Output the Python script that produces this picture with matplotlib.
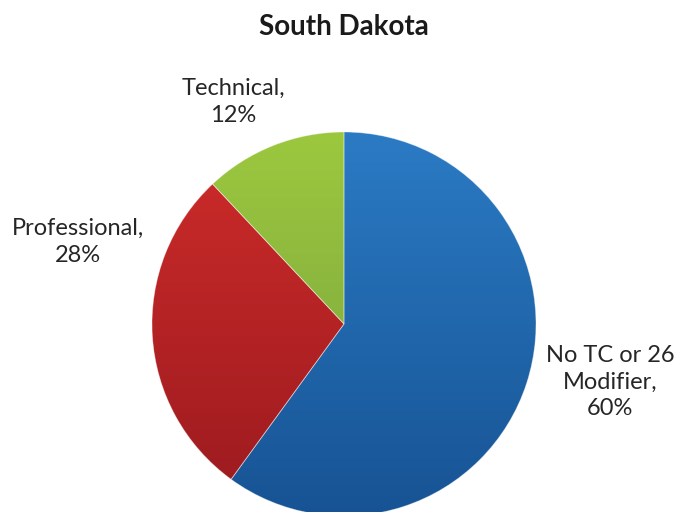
import matplotlib.pyplot as plt
import numpy as np
from matplotlib.colors import LinearSegmentedColormap

title = "South Dakota"
categories = ["No TC or 26\nModifier", "Professional", "Technical"]
shares = [60, 28, 12]
top_colors = ["#2b7bc4", "#cf2c2a", "#9cc83e"]
bottom_colors = ["#175394", "#9a1a1f", "#759f3f"]

# label centres in pixels (x from left, y from top)
label_px = [(610, 382), (78, 242), (233, 102)]

W, H = 674, 512
cx, cy, r = 344, 324, 192

plt.rcParams['font.family'] = ['Lato', 'DejaVu Sans']

fig = plt.figure(figsize=(W / 100, H / 100), dpi=100)
ax = fig.add_axes([0, 0, 1, 1])

wedges, _ = ax.pie(shares, startangle=90, counterclock=False, radius=1,
                   wedgeprops=dict(linewidth=0.6, edgecolor=(1, 1, 1, 0.4)))

grad = np.linspace(0, 1, 256).reshape(-1, 1)
for w, c0, c1 in zip(wedges, top_colors, bottom_colors):
    w.set_facecolor("none")
    cmap = LinearSegmentedColormap.from_list("g", [c0, c1])
    im = ax.imshow(grad, cmap=cmap, extent=(-1, 1, -1, 1), origin="upper",
                   aspect="auto", zorder=w.get_zorder() - 0.1)
    im.set_clip_path(w)

ax.set_xlim(-cx / r, (W - cx) / r)
ax.set_ylim(-(H - cy) / r, cy / r)
ax.set_aspect("auto")
ax.axis("off")

for cat, s, (px, py) in zip(categories, shares, label_px):
    ax.text((px - cx) / r, (cy - py) / r, f"{cat},\n{s}%", ha="center", va="center",
            fontsize=17, color="#262626", linespacing=1.35)

ax.text(0, (cy - 27) / r, title, ha="center", va="center",
        fontsize=20, fontweight="bold", color="#1a1a1a")

fig.savefig("out.png", dpi=100)
